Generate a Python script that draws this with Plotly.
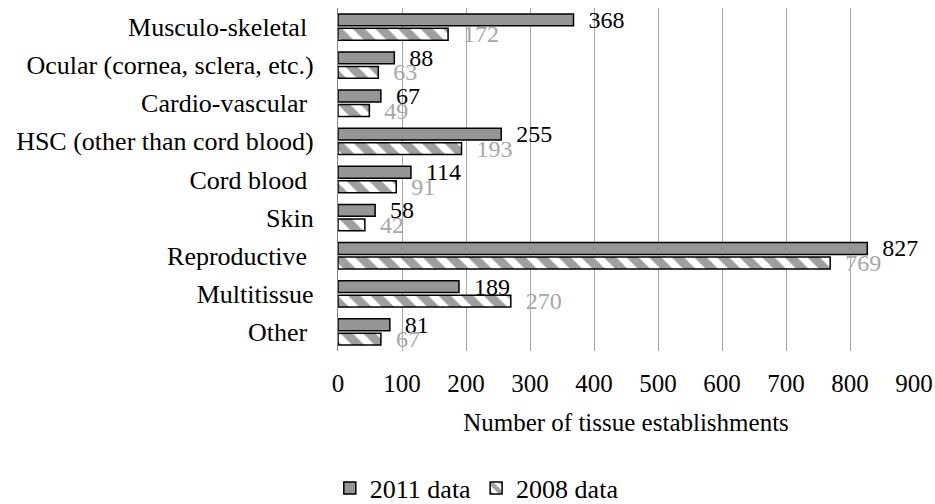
import plotly.graph_objects as go

categories = ["Musculo-skeletal\u00a0", "Ocular (cornea, sclera, etc.)", "Cardio-vascular\u00a0",
              "HSC (other than cord blood)", "Cord blood\u00a0", "Skin", "Reproductive\u00a0",
              "Multitissue", "Other\u00a0"]
data_2011 = [368, 88, 67, 255, 114, 58, 827, 189, 81]
data_2008 = [172, 63, 49, 193, 91, 42, 769, 270, 67]
x_ticks = [0, 100, 200, 300, 400, 500, 600, 700, 800, 900]

FONT = "Liberation Serif"
FS = 25
PAD = "\u00a0\u00a0"

fig = go.Figure()
fig.add_trace(go.Bar(
    name="2011 data", y=categories, x=data_2011, orientation="h",
    marker=dict(color="#969696", line=dict(color="#000000", width=1.5)),
    text=[PAD + str(v) for v in data_2011], textposition="outside",
    textfont=dict(family=FONT, size=24, color="#000000"),
    constraintext="none", cliponaxis=False,
))
fig.add_trace(go.Bar(
    name="2008 data", y=categories, x=data_2008, orientation="h",
    marker=dict(color="#ffffff", line=dict(color="#000000", width=1.5),
                pattern=dict(shape="\\", fgcolor="#404040", bgcolor="#ffffff",
                             size=16, solidity=0.55, fillmode="overlay")),
    text=[PAD + str(v) for v in data_2008], textposition="outside",
    textfont=dict(family=FONT, size=24, color="#a6a6a6"),
    constraintext="none", cliponaxis=False,
))

fig.update_layout(
    width=935, height=504,
    margin=dict(l=338, r=21, t=8, b=153, autoexpand=False),
    paper_bgcolor="white", plot_bgcolor="white",
    font=dict(family=FONT, size=FS, color="#000000"),
    barmode="group", bargap=0.24, bargroupgap=0.18,
    showlegend=True,
    legend=dict(orientation="h", x=0.241, xanchor="center", y=-0.40, yanchor="middle",
                font=dict(family=FONT, size=26, color="#000000"),
                itemwidth=30, traceorder="normal", bgcolor="rgba(0,0,0,0)"),
)
fig.update_xaxes(
    range=[0, 900], tickvals=x_ticks, ticktext=[str(t) for t in x_ticks],
    showgrid=True, gridcolor="#a6a6a6", gridwidth=1.3, zeroline=False,
    showline=False, ticks="", ticklabelstandoff=15, automargin=False,
    title=dict(text="Number of tissue establishments", standoff=17,
               font=dict(family=FONT, size=FS)),
    tickfont=dict(family=FONT, size=FS),
)
fig.update_yaxes(
    autorange="reversed", showgrid=False, zeroline=False,
    showline=True, linecolor="#868686", linewidth=1.3,
    ticks="", ticklabelstandoff=18, automargin=False,
    tickfont=dict(family=FONT, size=26),
)

fig.write_html("out.html", config={"displayModeBar": False},
               post_script="document.body.style.margin='0';document.body.style.overflow='hidden';")
